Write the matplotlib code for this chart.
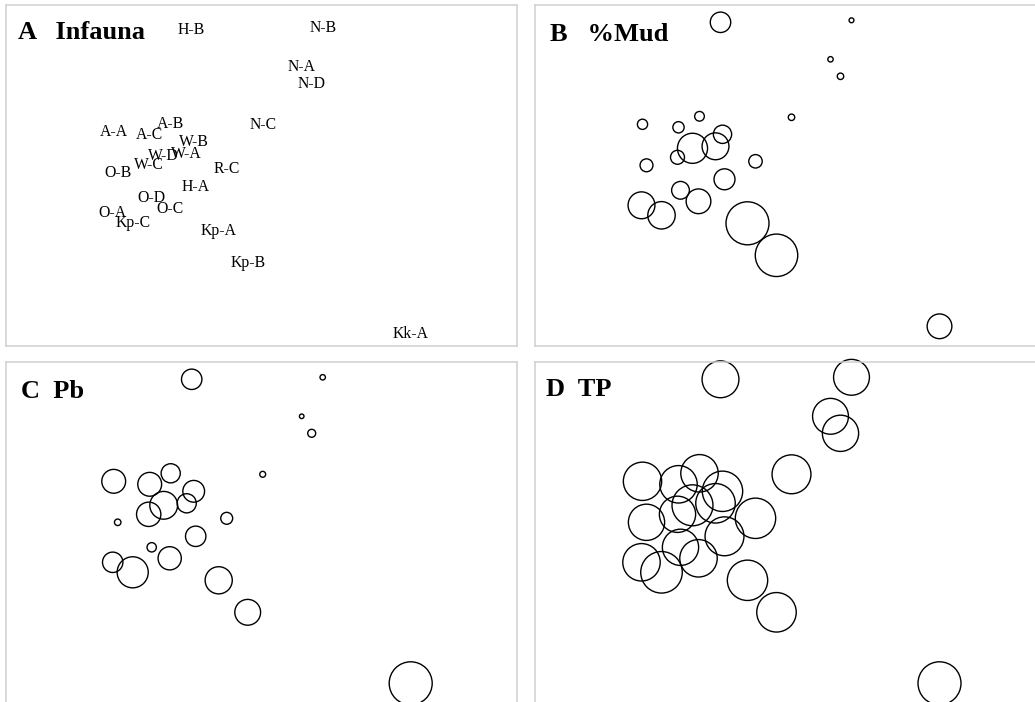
import matplotlib.pyplot as plt

plt.switch_backend('Agg')
plt.rcParams['font.family'] = ['Liberation Serif', 'DejaVu Serif']

# samples and MDS coordinates
samples = ['H-B', 'N-B', 'N-A', 'N-D', 'N-C', 'A-A', 'A-C', 'A-B', 'W-B', 'W-D', 'W-A',
           'W-C', 'O-B', 'R-C', 'H-A', 'O-D', 'O-C', 'O-A', 'Kp-C', 'Kp-A', 'Kp-B', 'Kk-A']
mds1 = [-0.14, 1.17, 0.96, 1.06, 0.57, -0.92, -0.56, -0.35, -0.12, -0.42, -0.19,
        -0.57, -0.88, 0.21, -0.10, -0.54, -0.36, -0.93, -0.73, 0.13, 0.42, 2.05]
mds2 = [1.33, 1.35, 0.96, 0.79, 0.38, 0.31, 0.28, 0.39, 0.21, 0.07, 0.09,
        -0.02, -0.10, -0.06, -0.24, -0.35, -0.46, -0.50, -0.60, -0.68, -1.00, -1.71]

# environmental variables
mud = [38, 9, 10, 12, 12, 19, 21, 18, 34, 56, 50, 26, 24, 25, 39, 33, 46, 50, 51, 80, 79, 46]
pb = [16.6, 4.4, 3.7, 6.5, 4.8, 19.4, 19.4, 15.6, 17.7, 22.6, 15.6, 19.8, 5.3, 9.7,
      16.6, 7.6, 18.9, 16.6, 25.3, 22.1, 21.0, 35.0]
tp = [557, 542, 542, 548, 588, 579, 566, 566, 610, 619, 597, 548, 548, 610, 588, 548,
      566, 566, 628, 610, 597, 650]

titles = ['A   Infauna', 'B   %Mud', 'C  Pb', 'D  TP']

W, H = 1035, 702
fig = plt.figure(figsize=(W / 100, H / 100), dpi=100)

# panel boxes in pixels: left, top, width, height
boxes = [(5.7, 5.3, 511.6, 340.4), (534.5, 5.3, 511.6, 340.4),
         (5.7, 362.3, 511.6, 346), (534.5, 362.3, 511.6, 346)]
title_off = [(12.6, 34), (15.5, 35.4), (15, 35.4), (11.2, 33.5)]

RMAX = 21.5 * 0.72  # largest bubble radius in points


def make_ax(box):
    l, t, w, h = box
    ax = fig.add_axes([l / W, 1 - (t + h) / H, w / W, h / H])
    ax.set_xlim(-2.0, -2.0 + w / 100)
    ax.set_ylim(1.5 - h / 100, 1.5)
    ax.set_xticks([])
    ax.set_yticks([])
    for s in ax.spines.values():
        s.set_color('#d0d0d0')
        s.set_linewidth(1.1)
    return ax


axes = [make_ax(b) for b in boxes]

# A: sample labels
axA = axes[0]
for name, x, y in zip(samples, mds1, mds2):
    axA.text(x, y - 0.08, name, ha='center', va='center', fontsize=11.3)

# B-D: bubbles scaled by value
for ax, vals in zip(axes[1:], [mud, pb, tp]):
    vmax = max(vals)
    sizes = [(2 * RMAX * v / vmax) ** 2 for v in vals]
    ax.scatter(mds1, mds2, s=sizes, facecolors='none', edgecolors='black',
               linewidths=1.0, clip_on=False)

for ax, title, off in zip(axes, titles, title_off):
    ax.annotate(title, xy=(0, 1), xycoords='axes fraction',
                xytext=(off[0] * 0.72, -off[1] * 0.72), textcoords='offset points',
                ha='left', va='baseline', fontsize=19, fontweight='bold')

plt.savefig('out.png', dpi=100)
plt.close()
